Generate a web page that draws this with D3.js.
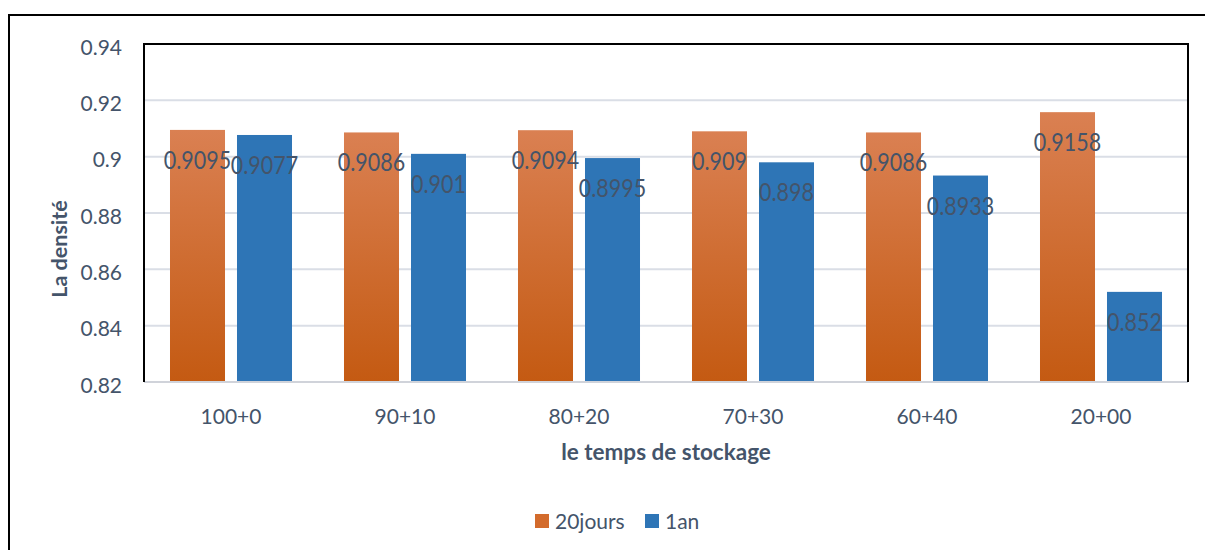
<!DOCTYPE html>
<html>
<head>
<meta charset="utf-8">
<script src="https://cdn.jsdelivr.net/npm/d3@7"></script>
<style>
  html, body { margin: 0; padding: 0; background: #fff; }
  svg { display: block; }
  text { font-family: Lato, "Open Sans", sans-serif; fill: #44546a; }
</style>
</head>
<body>
<script>
// Storage-time mixtures and measured densities
const categories = ["100+0", "90+10", "80+20", "70+30", "60+40", "20+00"];
const seriesNames = ["20jours", "1an"];
const jours20 = [0.9095, 0.9086, 0.9094, 0.909, 0.9086, 0.9158];
const an1 = [0.9077, 0.901, 0.8995, 0.898, 0.8933, 0.852];
const yTicks = [0.82, 0.84, 0.86, 0.88, 0.9, 0.92, 0.94];

const W = 1205, H = 550;
const plot = { left: 144, right: 1188, top: 44, bottom: 382 };

const svg = d3.select("body").append("svg").attr("width", W).attr("height", H);

// gradient for the orange series
const defs = svg.append("defs");
const grad = defs.append("linearGradient").attr("id", "orangeGrad")
  .attr("x1", 0).attr("y1", 0).attr("x2", 0).attr("y2", 1);
grad.append("stop").attr("offset", "0%").attr("stop-color", "#da8052");
grad.append("stop").attr("offset", "100%").attr("stop-color", "#c45a12");

const x = d3.scaleBand().domain(categories).range([plot.left, plot.right]).padding(0);
const xs = d3.scaleBand().domain(seriesNames).range([0, x.bandwidth()])
  .paddingInner(0.179).paddingOuter(0.388);
const y = d3.scaleLinear().domain([0.82, 0.94]).range([plot.bottom, plot.top]);

// outer frame
svg.append("rect").attr("x", 9).attr("y", 15).attr("width", 1210).attr("height", 560)
  .attr("fill", "none").attr("stroke", "#000").attr("stroke-width", 2);

// gridlines
svg.append("g").selectAll("line")
  .data(yTicks.filter(t => t > 0.82 && t < 0.94))
  .join("line")
  .attr("x1", plot.left).attr("x2", plot.right)
  .attr("y1", d => y(d)).attr("y2", d => y(d))
  .attr("stroke", "#dadee6").attr("stroke-width", 2);

// y axis labels
const yAxis = d3.axisLeft(y).tickValues(yTicks).tickFormat(d3.format("")).tickSize(0).tickPadding(22);
const gy = svg.append("g").attr("transform", `translate(${plot.left},0)`).call(yAxis);
gy.select(".domain").remove();
gy.selectAll("text").attr("font-size", 21).attr("dy", "0.49em").style("font-family", "Lato").attr("fill", "#44546a");

// x axis labels
const xAxis = d3.axisBottom(x).tickSize(0).tickPadding(31);
const gx = svg.append("g").attr("transform", `translate(0,${plot.bottom})`).call(xAxis);
gx.select(".domain").remove();
gx.selectAll("text").attr("font-size", 21).attr("dy", "0.5em").style("font-family", "Lato").attr("fill", "#44546a");

const colors = { "20jours": "url(#orangeGrad)", "1an": "#2e75b6" };
const legendColors = { "20jours": "#d36b2c", "1an": "#2e75b6" };
const fmt = d => String(d);

function drawSeries(name, values) {
  const g = svg.append("g");
  g.selectAll("rect").data(values).join("rect")
    .attr("x", (d, i) => x(categories[i]) + xs(name))
    .attr("width", xs.bandwidth())
    .attr("y", d => y(d))
    .attr("height", d => y(0.82) - y(d))
    .attr("fill", colors[name]);
  g.selectAll("g.lbl").data(values).join("g").attr("class", "lbl")
    .attr("transform", (d, i) => `translate(${x(categories[i]) + xs(name) + xs.bandwidth() / 2},${y(d) + 39}) scale(0.86,1)`)
    .append("text")
    .attr("text-anchor", "middle")
    .attr("font-size", 25)
    .attr("fill", "#44546a")
    .text(fmt);
}
drawSeries("20jours", jours20);
drawSeries("1an", an1);

// plot frame: dark on top/left/right, grey baseline
svg.append("line").attr("x1", plot.left).attr("x2", plot.right).attr("y1", plot.bottom).attr("y2", plot.bottom)
  .attr("stroke", "#d0d3da").attr("stroke-width", 2);
svg.append("path")
  .attr("d", `M${plot.left},${plot.bottom}V${plot.top}H${plot.right}V${plot.bottom}`)
  .attr("fill", "none").attr("stroke", "#000").attr("stroke-width", 2);

// axis titles
svg.append("text").attr("x", (plot.left + plot.right) / 2).attr("y", 460)
  .attr("text-anchor", "middle").attr("font-size", 22.5).attr("font-weight", "bold")
  .text("le temps de stockage");
svg.append("text").attr("transform", "translate(67,249) rotate(-90)")
  .attr("text-anchor", "middle").attr("font-size", 21.5).attr("font-weight", "bold")
  .text("La densité");

// legend
const legend = svg.append("g");
const legendItems = [{ name: "20jours", x: 535 }, { name: "1an", x: 645 }];
legendItems.forEach(it => {
  legend.append("rect").attr("x", it.x).attr("y", 514).attr("width", 14).attr("height", 14)
    .attr("fill", legendColors[it.name]);
  legend.append("text").attr("x", it.x + 20).attr("y", 529).attr("font-size", 21).text(it.name);
});
</script>
</body>
</html>
